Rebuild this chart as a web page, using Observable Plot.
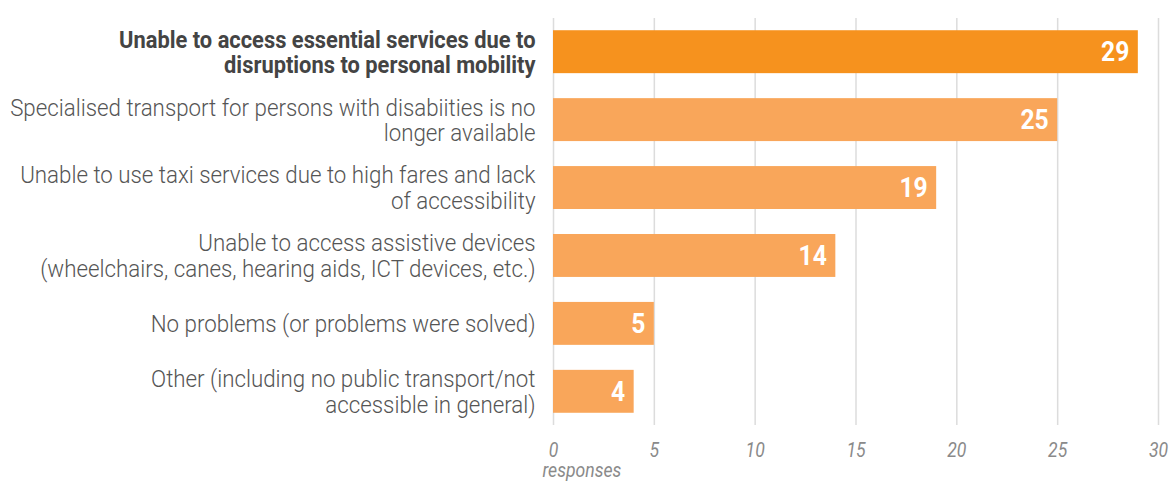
<!DOCTYPE html>
<html><head><meta charset="utf-8">
<script src="https://cdn.jsdelivr.net/npm/d3@7"></script>
<script src="https://cdn.jsdelivr.net/npm/@observablehq/plot@0.6"></script>
<style>
body{margin:0;background:#fff;}
</style>
</head><body>
<div id="chart"></div>
<script>
const categories = [
  "Unable to access essential services due to\ndisruptions to personal mobility",
  "Specialised transport for persons with disabiities is no\nlonger available",
  "Unable to use taxi services due to high fares and lack\nof accessibility",
  "Unable to access assistive devices\n(wheelchairs, canes, hearing aids, ICT devices, etc.)",
  "No problems (or problems were solved)",
  "Other (including no public transport/not\naccessible in general)"
];
const values = [29, 25, 19, 14, 5, 4];
const highlighted = [true, false, false, false, false, false];
const xTicks = [0, 5, 10, 15, 20, 25, 30];
const xLabel = "responses";

const data = categories.map((c, i) => ({category: c, value: values[i], hi: highlighted[i]}));

const chart = Plot.plot({
  width: 1170,
  height: 482,
  marginLeft: 553,
  marginRight: 12,
  marginTop: 18,
  marginBottom: 57,
  style: {fontFamily: "Roboto, sans-serif", background: "#fff"},
  x: {domain: [0, 30]},
  y: {domain: categories, paddingInner: 0.368, paddingOuter: 0.18, round: false},
  marks: [
    Plot.gridX(xTicks, {stroke: "#dcdcdc", strokeOpacity: 1, strokeWidth: 1.5}),
    Plot.barX(data, {x: "value", y: "category", fill: d => d.hi ? "#f6921e" : "#f9a65a"}),
    Plot.text(data, {x: "value", y: "category", text: d => String(d.value), textAnchor: "end", dx: -9, fill: "#fff", fontWeight: "bold", fontSize: 28}),
    Plot.axisX({ticks: xTicks, tickSize: 0, tickPadding: 17, fontSize: 20, fontStyle: "italic", color: "#8a8a8a", label: null}),
    Plot.text([xLabel], {frameAnchor: "bottom-left", lineAnchor: "middle", dx: -11, dy: 45, textAnchor: "start", fontSize: 20, fontStyle: "italic", fill: "#8a8a8a"}),
    Plot.axisY({tickSize: 0, tickPadding: 18, fontSize: 24, lineHeight: 1.06, fontWeight: 300, color: "#555", label: null})
  ]
});
document.getElementById("chart").appendChild(chart);

// condense text to mimic a condensed face
function condense(sel, k) {
  chart.querySelectorAll(sel).forEach(t => {
    const tr = t.getAttribute("transform") || "";
    t.setAttribute("transform", tr + ` scale(${k},1)`);
  });
}
chart.querySelectorAll('g[aria-label="y-axis tick label"] text').forEach((t, i) => {
  if (highlighted[i]) { t.setAttribute("font-weight", "bold"); t.setAttribute("fill", "#444"); t.setAttribute("transform", (t.getAttribute("transform") || "") + " scale(0.98,1)"); }
});
condense('g[aria-label="y-axis tick label"] text', 0.93);
condense('g[aria-label="x-axis tick label"] text', 0.88);
condense('g[aria-label="text"] text', 0.88);
</script>
</body></html>
